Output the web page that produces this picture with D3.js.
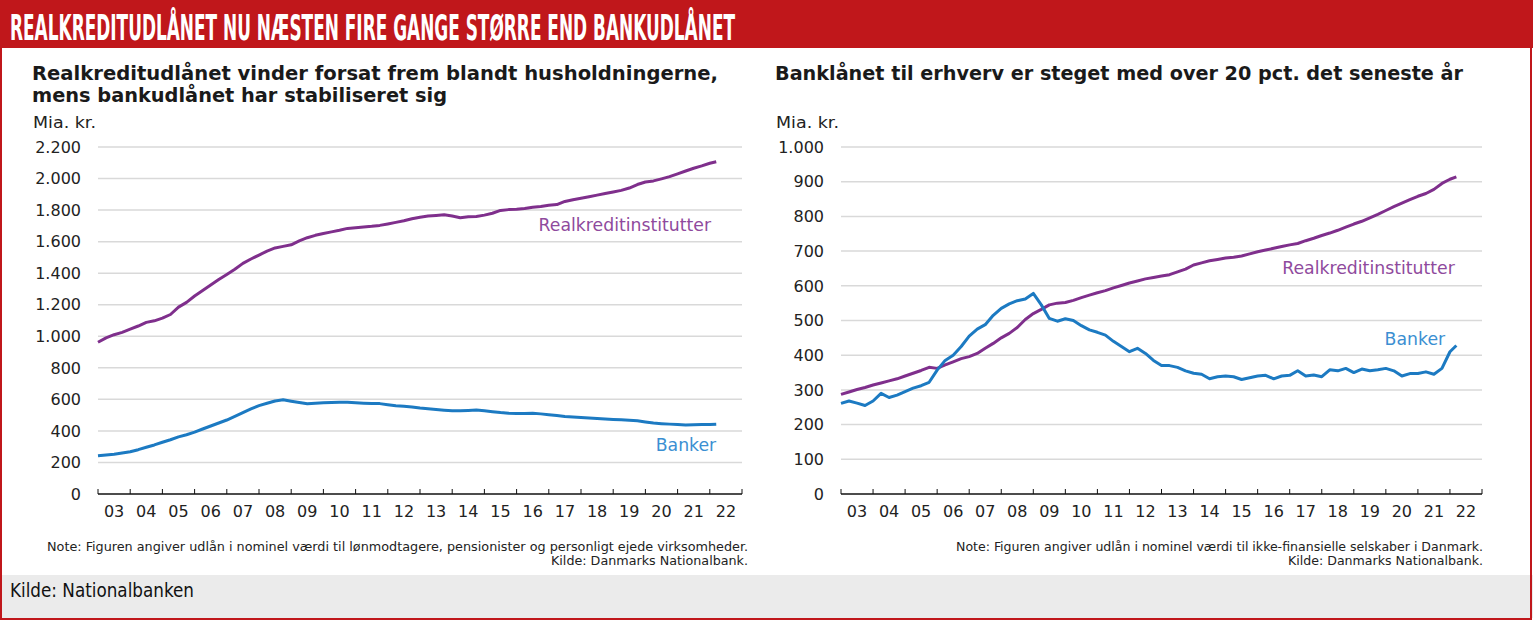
<!DOCTYPE html>
<html>
<head>
<meta charset="utf-8">
<script src="https://cdn.jsdelivr.net/npm/d3@7"></script>
<style>
  body { margin: 0; background: #fff; }
  svg { display: block; }
</style>
</head>
<body>
<div id="chart"></div>
<script>
var W = 1533, H = 621;

// year labels on the x axis
var yearLabels = ["03","04","05","06","07","08","09","10","11","12","13","14","15","16","17","18","19","20","21","22"];

// quarterly observations 2003Q1..2022Q1, plus the last reading (early 2022)
var quarters = d3.range(0, 77).map(function (i) { return 2003 + i * 0.25; }).concat([2022.2]);

// households, bn. kr.
var husRealkredit = [962,990,1010,1025,1045,1065,1088,1098,1115,1138,1185,1215,1255,1290,1325,1360,
  1392,1425,1462,1490,1515,1540,1560,1570,1580,1605,1625,1640,1652,1662,1672,1684,1688,1693,1697,1703,
  1712,1722,1732,1745,1755,1762,1766,1770,1762,1752,1758,1760,1768,1780,1798,1803,1805,1810,1818,1823,
  1830,1835,1855,1866,1875,1885,1895,1905,1915,1925,1940,1962,1978,1985,1998,2012,2030,2048,2065,2080,2097,2107];
var husBanker = [243,248,252,260,268,281,296,311,328,344,362,376,392,412,431,450,469,492,516,540,560,575,
  590,597,588,580,572,576,579,580,582,581,578,576,574,573,566,560,556,552,545,540,535,531,528,528,530,532,
  528,522,516,512,510,510,512,508,503,497,491,488,485,482,479,476,473,470,468,465,457,450,446,443,440,438,
  439,440,441,443];

// non-financial corporations, bn. kr.
var ervRealkredit = [287,294,301,307,314,320,326,332,340,348,356,365,362,372,381,390,396,405,420,434,450,463,
  480,503,520,532,545,550,552,558,566,573,580,586,594,601,608,614,620,624,628,632,640,648,660,666,672,676,
  680,682,686,692,698,703,708,713,718,722,730,737,745,752,760,769,778,786,796,806,817,828,838,848,858,866,
  878,895,907,914];
var ervBanker = [261,268,262,255,268,290,278,285,295,305,312,322,357,385,400,425,455,475,488,515,535,548,557,
  562,578,545,506,498,505,500,485,473,466,458,440,425,410,420,405,385,370,370,365,355,348,345,332,338,340,
  338,330,335,340,342,332,340,342,355,340,343,338,358,355,362,350,360,355,358,362,355,340,347,347,352,345,
  362,410,428];

var purple = "#7f2f8c", blue = "#1c7ac2";
var purpleLbl = "#8f4a9d", blueLbl = "#3b8fd2";
var red = "#c0171b";

var dk = d3.formatLocale({ decimal: ",", thousands: ".", grouping: [3], currency: ["", " kr."] });
var fmt = dk.format(",");

var sans = "'DejaVu Sans',Verdana,sans-serif";
var narrow = "'Liberation Sans Narrow','DejaVu Sans Condensed',sans-serif";

var svg = d3.select("#chart").append("svg")
  .attr("width", W).attr("height", H);

// frame
svg.append("rect").attr("x", 0).attr("y", 0).attr("width", W).attr("height", H).attr("fill", "#fff");
svg.append("rect").attr("x", 0).attr("y", 0).attr("width", W).attr("height", 48).attr("fill", red);
svg.append("rect").attr("x", 0).attr("y", 575).attr("width", W).attr("height", 43).attr("fill", "#ebebeb");
svg.append("rect").attr("x", 1).attr("y", 1).attr("width", W - 3).attr("height", H - 3)
  .attr("fill", "none").attr("stroke", red).attr("stroke-width", 2);

svg.append("text")
  .attr("x", 10).attr("y", 40)
  .attr("font-family", narrow)
  .attr("font-weight", "bold").attr("font-size", 35).attr("fill", "#fff")
  .attr("textLength", 725).attr("lengthAdjust", "spacingAndGlyphs")
  .text("REALKREDITUDLÅNET NU NÆSTEN FIRE GANGE STØRRE END BANKUDLÅNET");

svg.append("text")
  .attr("x", 10).attr("y", 597)
  .attr("font-family", narrow)
  .attr("font-size", 19).attr("fill", "#111")
  .attr("textLength", 184).attr("lengthAdjust", "spacingAndGlyphs")
  .text("Kilde: Nationalbanken");

var panels = [
  {
    x0: 98, x1: 742, yMax: 2200, step: 200,
    title: ["Realkreditudlånet vinder forsat frem blandt husholdningerne,", "mens bankudlånet har stabiliseret sig"],
    titleW: [686, 415],
    titleX: 32, unitX: 33, tickX: 81,
    series: [
      { vals: husRealkredit, color: purple, label: "Realkreditinstitutter", lc: purpleLbl, lt: 2022.04, lv: 1665 },
      { vals: husBanker, color: blue, label: "Banker", lc: blueLbl, lt: 2022.2, lv: 270 }
    ],
    note: "Note: Figuren angiver udlån i nominel værdi til lønmodtagere, pensionister og personligt ejede virksomheder.",
    noteX: 47, noteW: 701, srcX: 748, srcW: 197
  },
  {
    x0: 841, x1: 1482, yMax: 1000, step: 100,
    title: ["Banklånet til erhverv er steget med over 20 pct. det seneste år"],
    titleW: [688],
    titleX: 775, unitX: 776, tickX: 824,
    series: [
      { vals: ervRealkredit, color: purple, label: "Realkreditinstitutter", lc: purpleLbl, lt: 2022.15, lv: 633 },
      { vals: ervBanker, color: blue, label: "Banker", lc: blueLbl, lt: 2021.85, lv: 430 }
    ],
    note: "Note: Figuren angiver udlån i nominel værdi til ikke-finansielle selskaber i Danmark.",
    noteX: 956, noteW: 527, srcX: 1483, srcW: 195
  }
];

panels.forEach(function (p) {
  var g = svg.append("g");
  var x = d3.scaleLinear().domain([2003, 2023]).range([p.x0, p.x1]);
  var y = d3.scaleLinear().domain([0, p.yMax]).range([494, 147]);

  p.title.forEach(function (t, i) {
    g.append("text").attr("x", p.titleX).attr("y", 80 + i * 22)
      .attr("font-family", sans).attr("font-weight", "bold")
      .attr("font-size", 19.5).attr("fill", "#1a1a1a")
      .attr("textLength", p.titleW[i]).attr("lengthAdjust", "spacingAndGlyphs")
      .text(t);
  });
  g.append("text").attr("x", p.unitX).attr("y", 128)
    .attr("font-family", sans)
    .attr("font-size", 16.5).attr("fill", "#222")
    .attr("textLength", 63).attr("lengthAdjust", "spacingAndGlyphs")
    .text("Mia. kr.");

  var ticks = d3.range(0, p.yMax + 1, p.step);
  g.selectAll(".grid").data(ticks.slice(1)).enter().append("line")
    .attr("x1", p.x0).attr("x2", p.x1)
    .attr("y1", function (d) { return y(d); }).attr("y2", function (d) { return y(d); })
    .attr("stroke", "#d9d9d9").attr("stroke-width", 1.5);

  g.selectAll(".ylab").data(ticks).enter().append("text")
    .attr("x", p.tickX).attr("y", function (d) { return y(d); })
    .attr("dy", "0.36em").attr("text-anchor", "end")
    .attr("font-family", sans)
    .attr("font-size", 16).attr("fill", "#222")
    .text(function (d) { return fmt(d); });

  // x axis
  g.append("line").attr("x1", p.x0).attr("x2", p.x1).attr("y1", 494).attr("y2", 494)
    .attr("stroke", "#111").attr("stroke-width", 1.5);
  g.selectAll(".xt").data(d3.range(2003, 2024)).enter().append("line")
    .attr("x1", function (d) { return x(d); }).attr("x2", function (d) { return x(d); })
    .attr("y1", 489).attr("y2", 494).attr("stroke", "#111").attr("stroke-width", 1);
  g.selectAll(".xl").data(yearLabels).enter().append("text")
    .attr("x", function (d, i) { return x(2003.5 + i); }).attr("y", 517)
    .attr("text-anchor", "middle")
    .attr("font-family", sans)
    .attr("font-size", 16).attr("fill", "#222")
    .text(function (d) { return d; });

  var line = d3.line()
    .x(function (d, i) { return x(quarters[i]); })
    .y(function (d) { return y(d); });

  p.series.forEach(function (s) {
    g.append("path").datum(s.vals).attr("d", line)
      .attr("fill", "none").attr("stroke", s.color).attr("stroke-width", 3)
      .attr("stroke-linejoin", "round");
    g.append("text").attr("x", x(s.lt)).attr("y", y(s.lv))
      .attr("text-anchor", "end")
      .attr("font-family", sans)
      .attr("font-size", 17.3).attr("fill", s.lc).text(s.label);
  });

  g.append("text").attr("x", p.noteX).attr("y", 551)
    .attr("font-family", narrow)
    .attr("font-size", 13).attr("fill", "#222")
    .attr("textLength", p.noteW).attr("lengthAdjust", "spacingAndGlyphs")
    .text(p.note);
  g.append("text").attr("x", p.srcX - p.srcW).attr("y", 565)
    .attr("font-family", narrow)
    .attr("font-size", 13).attr("fill", "#222")
    .attr("textLength", p.srcW).attr("lengthAdjust", "spacingAndGlyphs")
    .text("Kilde: Danmarks Nationalbank.");
});
</script>
</body>
</html>
